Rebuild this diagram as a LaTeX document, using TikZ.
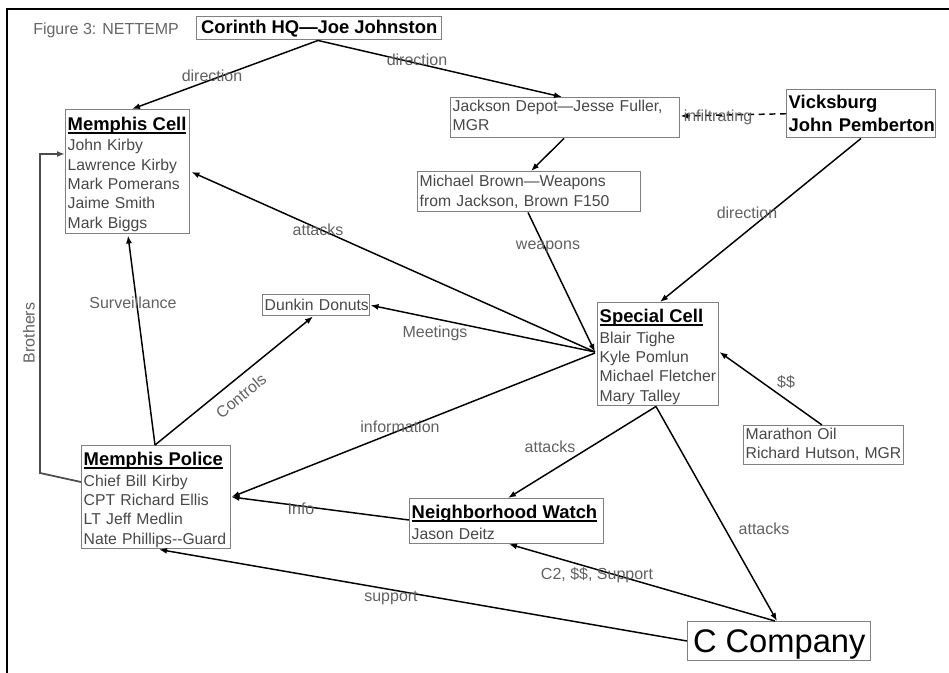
\documentclass[tikz,border=0pt]{standalone}
\usepackage{fontspec}
\setmainfont{Liberation Sans}
\usetikzlibrary{arrows.meta,calc}
\newcommand{\hdr}[1]{{\fontsize{13.8}{14.5}\selectfont\bfseries\color{black}\rule{0pt}{14.6pt}\setbox0=\hbox{#1}\rlap{\vrule height -1.4pt depth 2.5pt width \wd0}\box0}}
\newcommand{\dpst}{\rule[-3.3pt]{0pt}{3.3pt}}
\begin{document}
\begin{tikzpicture}[x=0.75pt,y=-0.75pt,
  box/.style={draw=black!50, line width=1.1pt, anchor=north west, inner xsep=1.5pt, inner ysep=0pt,
    align=left, font=\fontsize{11.8}{14.5}\selectfont, text=black!72},
  edge/.style={line width=1.1pt, draw=black, -{Latex[length=6pt,width=4.5pt]}},
  lbl/.style={font=\fontsize{12}{14}\selectfont, text=black!62, inner sep=0pt},
]
\useasboundingbox (0,0) rectangle (949,673);
\draw[line width=0.8pt] (949,9) -- (7,9) -- (7,673);

\node[lbl, anchor=west, text=black!60] (title) at (33,30) {Figure 3: NETTEMP};

% boxes
\node[box, align=center, text=black, minimum width=183.75pt, minimum height=17.25pt,
  font=\fontsize{13.8}{14}\selectfont\bfseries] (corinth) at (196,16) {Corinth HQ—Joe Johnston};

\node[box, text width=90pt, minimum width=93pt, minimum height=93pt] (mcell) at (65,109)
  {\hdr{Memphis Cell}\\[1.1pt]\mbox{John Kirby}\\\mbox{Lawrence Kirby}\\\mbox{Mark Pomerans}\\\mbox{Jaime Smith}\\\mbox{Mark Biggs}\dpst};

\node[box, text width=168.75pt, minimum width=171.75pt, minimum height=30pt] (jackson) at (450,97)
  {\mbox{Jackson Depot—Jesse Fuller,}\\MGR\dpst};

\node[box, text width=108.75pt, minimum width=111.75pt, minimum height=36pt, text=black,
  font=\fontsize{13.8}{17}\selectfont\bfseries] (vicks) at (786,89)
  {\mbox{Vicksburg}\\\mbox{John Pemberton}};

\node[box, text width=164.25pt, minimum width=167.25pt, minimum height=30pt] (brown) at (417,171)
  {\mbox{Michael Brown—Weapons}\\\mbox{from Jackson, Brown F150}};

\node[box, text width=87.75pt, minimum width=90.75pt, minimum height=77.25pt] (special) at (597,302)
  {\hdr{Special Cell}\\[1.1pt]\mbox{Blair Tighe}\\\mbox{Kyle Pomlun}\\\mbox{Michael Fletcher}\\\mbox{Mary Talley}\dpst};

\node[box, text width=77.25pt, minimum width=80.25pt, minimum height=15.75pt] (dunkin) at (262,294)
  {\mbox{Dunkin Donuts}};

\node[box, text width=117pt, minimum width=120pt, minimum height=29.25pt] (marathon) at (743,425)
  {\mbox{Marathon Oil}\\\mbox{Richard Hutson, MGR}\dpst};

\node[box, text width=108.75pt, minimum width=111.75pt, minimum height=77.25pt] (mpolice) at (81,445)
  {\hdr{Memphis Police}\\[1.1pt]\mbox{Chief Bill Kirby}\\\mbox{CPT Richard Ellis}\\\mbox{LT Jeff Medlin}\\\mbox{Nate Phillips-\kern0pt-Guard}\dpst};

\node[box, text width=142.5pt, minimum width=145.5pt, minimum height=33pt] (nwatch) at (409,498)
  {\hdr{Neighborhood Watch}\\[1.1pt]\mbox{Jason Deitz}\dpst};

\node[box, align=center, text=black, minimum width=137.25pt, minimum height=29.25pt, text depth=0pt,
  font=\fontsize{24.5}{26}\selectfont] (ccomp) at (687,621) {C Company};

% connectors
\draw[edge] ($(corinth.south west)+(122,0)$) -- ($(mcell.north west)+(67,0)$);
\draw[edge] ($(corinth.south west)+(122,0)$) -- ($(jackson.north west)+(112,0)$);
\draw[edge, dash pattern=on 4.5pt off 3.5pt] (vicks.west) -- ($(jackson.north east)+(0,19)$);
\draw[edge] ($(jackson.south west)+(114,0)$) -- ($(brown.north west)+(114,0)$);
\draw[edge] ($(vicks.south west)+(75,0)$) -- ($(special.north west)+(63,0)$);
\draw[edge] ($(brown.south west)+(111,0)$) -- ($(special.north west)+(-2,50)$);
\draw[edge] ($(special.north west)+(-2,50)$) -- ($(mcell.north east)+(1,63)$);
\draw[edge] ($(special.north west)+(-2,50)$) -- (dunkin.east);
\draw[edge] ($(special.north west)+(-2,51)$) -- ($(mpolice.north east)+(0,52)$);
\draw[edge] ($(mpolice.north west)+(74,0)$) -- ($(mcell.south west)+(63,1)$);
\draw[edge] ($(mpolice.north west)+(74,0)$) -- ($(dunkin.south west)+(51,0)$);
\coordinate (b1) at (40,473);
\coordinate (b2) at (40,154);
\draw[edge, draw=black!70, line width=1.3pt] ($(mpolice.north west)+(0,37)$) -- (b1) -- (b2) -- ($(mcell.north west)+(0,45)$);
\draw[edge] ($(marathon.north west)+(79,0)$) -- ($(special.north east)+(0,50)$);
\draw[edge] ($(special.south west)+(59,0)$) -- ($(nwatch.north west)+(99,0)$);
\draw[edge] ($(special.south west)+(59,0)$) -- ($(ccomp.north west)+(90,0)$);
\draw[edge] ($(nwatch.north west)+(0,22)$) -- ($(mpolice.north east)+(0,52)$);
\draw[edge] ($(ccomp.north west)+(88,0)$) -- ($(nwatch.south west)+(100,0)$);
\draw[edge] ($(ccomp.north west)+(0,20)$) -- ($(mpolice.south west)+(78,0)$);

% labels
\node[lbl] (l1) at (212,76) {direction};
\node[lbl] (l2) at (417,60) {direction};
\node[lbl] (l3) at (718,117) {infiltrating};
\node[lbl] (l4) at (747,213) {direction};
\node[lbl] (l5) at (548,247) {weapons};
\node[lbl] (l6) at (318,230) {attacks};
\node[lbl] (l7) at (435,333) {Meetings};
\node[lbl] (l8) at (400,427) {information};
\node[lbl] (l9) at (133,303) {Surveillance};
\node[lbl, rotate=39.4] (l10) at (241,396) {Controls};
\node[lbl, rotate=90] (l11) at (29,333) {Brothers};
\node[lbl] (l12) at (786,382) {\$\$};
\node[lbl] (l13) at (550,447) {attacks};
\node[lbl] (l14) at (764,529) {attacks};
\node[lbl] (l15) at (301,509) {Info};
\node[lbl] (l16) at (597,575) {C2, \$\$, Support};
\node[lbl] (l17) at (391,598) {support};
\end{tikzpicture}
\end{document}
